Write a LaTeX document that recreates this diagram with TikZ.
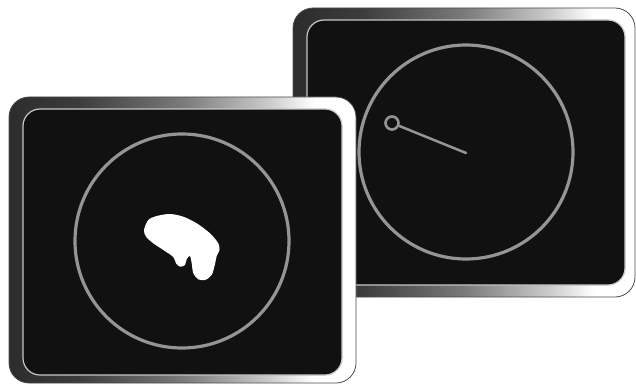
\documentclass[tikz,border=0pt]{standalone}
\definecolor{screen}{HTML}{111111}
\definecolor{ring}{HTML}{959595}
\definecolor{mdark}{HTML}{2C2C2C}
\definecolor{mdark2}{HTML}{3C3C3C}
\definecolor{mmid}{HTML}{7A7A7A}
\definecolor{mlight}{HTML}{C8C8C8}
\pgfdeclarehorizontalshading{metal}{100bp}{color(0bp)=(mdark); color(25bp)=(mdark); color(35bp)=(mdark2); color(50bp)=(mmid); color(62bp)=(mlight); color(69bp)=(white); color(100bp)=(white)}
\tikzset{
  bezel/.style={shading=metal, draw=black!70, line width=0.8pt, rounded corners=20pt},
  glass/.style={fill=screen, draw=mlight, line width=1.2pt, rounded corners=17pt},
  dial/.style={circle, draw=ring, line width=3.2pt, inner sep=0pt},
  knobstyle/.style={circle, draw=ring, line width=2.6pt, inner sep=0pt, minimum size=13pt},
  needle/.style={draw=ring, line width=2.5pt, line cap=round},
  blobstyle/.style={fill=white}
}
\begin{document}
\begin{tikzpicture}[x=1pt,y=-1pt]
\useasboundingbox (0,0) rectangle (636,385);
% right screen
\shade[bezel] (293,8) rectangle (635,297);
\path[glass] (307,20) rectangle (625,285);
\node[dial, minimum size=214pt] (rdial) at (466,152) {};
\coordinate (hub) at (466,153);
\node[knobstyle] (knob) at (392,123) {};
\draw[needle] (knob) -- (hub);
% left screen
\shade[bezel] (9,97) rectangle (356,383);
\path[glass] (23,109) rectangle (342,375);
\node[dial, minimum size=214pt] (ldial) at (182,241) {};
\fill[blobstyle] plot[smooth cycle, tension=0.5] coordinates {
  (144,230) (148.3,220) (156.7,216) (170,214) (183.3,216.7) (196.7,223.3)
  (210,233.3) (218.3,243.3) (219.5,250) (216.7,256) (215,264) (211.7,275)
  (205,280) (198.3,279.3) (193.3,273.3) (191.7,263.3) (190,256)
  (186.7,259) (185,265) (180,266.7) (176,263.3) (173.3,257)
  (163.3,250) (153.3,243.3) (146,236.7)};
\end{tikzpicture}
\end{document}
